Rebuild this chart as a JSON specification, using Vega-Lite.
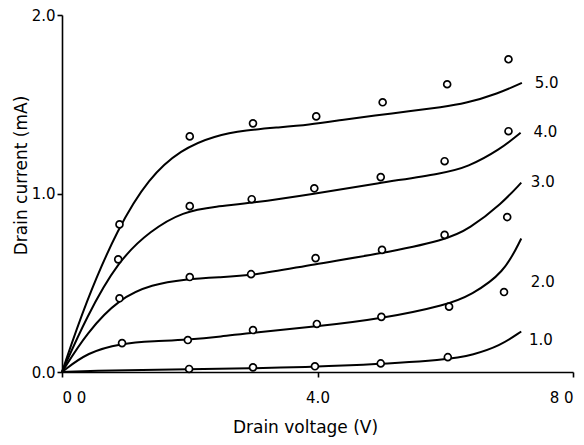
{
  "$schema": "https://vega.github.io/schema/vega-lite/v6.json",
  "autosize": {"type": "none"},
  "width": 511,
  "height": 357,
  "padding": {"left": 62, "top": 15, "right": 11, "bottom": 73},
  "background": "white",
  "config": {
    "view": {"stroke": null},
    "font": "DejaVu Sans",
    "axis": {"grid": false, "domainColor": "black", "tickColor": "black", "labelColor": "black", "titleColor": "black", "domainWidth": 1.6, "tickWidth": 1.6, "labelFont": "DejaVu Sans", "titleFont": "DejaVu Sans", "labelFontSize": 15, "titleFontSize": 17, "titleFontWeight": "normal"}
  },
  "datasets": {
    "curves": [
      {"g": "5.0", "x": 0, "y": 0}, {"g": "5.0", "x": 0.37, "y": 0.39}, {"g": "5.0", "x": 0.87, "y": 0.804}, {"g": "5.0", "x": 1.36, "y": 1.089}, {"g": "5.0", "x": 1.86, "y": 1.246}, {"g": "5.0", "x": 2.39, "y": 1.325}, {"g": "5.0", "x": 2.9, "y": 1.355}, {"g": "5.0", "x": 3.34, "y": 1.369}, {"g": "5.0", "x": 3.87, "y": 1.385}, {"g": "5.0", "x": 4.38, "y": 1.412}, {"g": "5.0", "x": 4.9, "y": 1.437}, {"g": "5.0", "x": 5.43, "y": 1.46}, {"g": "5.0", "x": 5.95, "y": 1.485}, {"g": "5.0", "x": 6.3, "y": 1.503}, {"g": "5.0", "x": 6.83, "y": 1.56}, {"g": "5.0", "x": 7.2, "y": 1.62},
      {"g": "4.0", "x": 0, "y": 0}, {"g": "4.0", "x": 0.38, "y": 0.306}, {"g": "4.0", "x": 0.88, "y": 0.625}, {"g": "4.0", "x": 1.39, "y": 0.793}, {"g": "4.0", "x": 1.89, "y": 0.899}, {"g": "4.0", "x": 2.42, "y": 0.928}, {"g": "4.0", "x": 2.94, "y": 0.945}, {"g": "4.0", "x": 3.91, "y": 0.995}, {"g": "4.0", "x": 4.93, "y": 1.057}, {"g": "4.0", "x": 5.98, "y": 1.114}, {"g": "4.0", "x": 6.34, "y": 1.146}, {"g": "4.0", "x": 6.86, "y": 1.247}, {"g": "4.0", "x": 7.18, "y": 1.34},
      {"g": "3.0", "x": 0, "y": 0}, {"g": "3.0", "x": 0.39, "y": 0.222}, {"g": "3.0", "x": 0.9, "y": 0.413}, {"g": "3.0", "x": 1.41, "y": 0.491}, {"g": "3.0", "x": 1.93, "y": 0.52}, {"g": "3.0", "x": 2.46, "y": 0.531}, {"g": "3.0", "x": 2.98, "y": 0.54}, {"g": "3.0", "x": 3.94, "y": 0.604}, {"g": "3.0", "x": 4.97, "y": 0.661}, {"g": "3.0", "x": 6.01, "y": 0.74}, {"g": "3.0", "x": 6.37, "y": 0.8}, {"g": "3.0", "x": 6.89, "y": 0.945}, {"g": "3.0", "x": 7.19, "y": 1.061},
      {"g": "2.0", "x": 0, "y": 0}, {"g": "2.0", "x": 0.4, "y": 0.111}, {"g": "2.0", "x": 0.93, "y": 0.161}, {"g": "2.0", "x": 1.44, "y": 0.173}, {"g": "2.0", "x": 1.96, "y": 0.181}, {"g": "2.0", "x": 2.49, "y": 0.198}, {"g": "2.0", "x": 3.0, "y": 0.222}, {"g": "2.0", "x": 3.97, "y": 0.254}, {"g": "2.0", "x": 5.0, "y": 0.298}, {"g": "2.0", "x": 6.04, "y": 0.377}, {"g": "2.0", "x": 6.4, "y": 0.431}, {"g": "2.0", "x": 6.92, "y": 0.554}, {"g": "2.0", "x": 7.19, "y": 0.748},
      {"g": "1.0", "x": 0, "y": 0}, {"g": "1.0", "x": 0.5, "y": 0.008}, {"g": "1.0", "x": 1.38, "y": 0.012}, {"g": "1.0", "x": 2.94, "y": 0.02}, {"g": "1.0", "x": 4.51, "y": 0.035}, {"g": "1.0", "x": 6.07, "y": 0.069}, {"g": "1.0", "x": 6.43, "y": 0.096}, {"g": "1.0", "x": 6.85, "y": 0.145}, {"g": "1.0", "x": 7.19, "y": 0.227}
    ],
    "points": [
      {"g": "5.0", "x": 0.9, "y": 0.827}, {"g": "5.0", "x": 2.0, "y": 1.32}, {"g": "5.0", "x": 2.99, "y": 1.393}, {"g": "5.0", "x": 3.98, "y": 1.432}, {"g": "5.0", "x": 5.02, "y": 1.511}, {"g": "5.0", "x": 6.03, "y": 1.612}, {"g": "5.0", "x": 6.99, "y": 1.752},
      {"g": "4.0", "x": 0.88, "y": 0.631}, {"g": "4.0", "x": 2.0, "y": 0.929}, {"g": "4.0", "x": 2.97, "y": 0.968}, {"g": "4.0", "x": 3.95, "y": 1.029}, {"g": "4.0", "x": 4.99, "y": 1.092}, {"g": "4.0", "x": 5.99, "y": 1.181}, {"g": "4.0", "x": 6.99, "y": 1.349},
      {"g": "3.0", "x": 0.9, "y": 0.413}, {"g": "3.0", "x": 2.0, "y": 0.532}, {"g": "3.0", "x": 2.96, "y": 0.548}, {"g": "3.0", "x": 3.97, "y": 0.638}, {"g": "3.0", "x": 5.01, "y": 0.684}, {"g": "3.0", "x": 5.99, "y": 0.768}, {"g": "3.0", "x": 6.97, "y": 0.868},
      {"g": "2.0", "x": 0.94, "y": 0.162}, {"g": "2.0", "x": 1.97, "y": 0.179}, {"g": "2.0", "x": 2.99, "y": 0.235}, {"g": "2.0", "x": 3.99, "y": 0.269}, {"g": "2.0", "x": 5.0, "y": 0.309}, {"g": "2.0", "x": 6.06, "y": 0.366}, {"g": "2.0", "x": 6.92, "y": 0.448},
      {"g": "1.0", "x": 1.99, "y": 0.017}, {"g": "1.0", "x": 2.99, "y": 0.026}, {"g": "1.0", "x": 3.96, "y": 0.032}, {"g": "1.0", "x": 4.99, "y": 0.048}, {"g": "1.0", "x": 6.04, "y": 0.083}
    ],
    "labels": [
      {"g": "5.0", "x": 7.4, "y": 1.62},
      {"g": "4.0", "x": 7.38, "y": 1.344},
      {"g": "3.0", "x": 7.34, "y": 1.064},
      {"g": "2.0", "x": 7.34, "y": 0.506},
      {"g": "1.0", "x": 7.31, "y": 0.181}
    ]
  },
  "layer": [
    {
      "data": {"name": "curves"},
      "mark": {"type": "line", "interpolate": "basis", "color": "black", "strokeWidth": 2},
      "encoding": {
        "x": {"field": "x", "type": "quantitative", "scale": {"domain": [0, 8], "nice": false}, "axis": {"values": [0, 4, 8], "labelExpr": "datum.value == 0 ? '0 0' : datum.value == 4 ? '4.0' : '8 0'", "title": "Drain voltage (V)", "tickSize": 5, "labelPadding": 13, "titlePadding": 14, "titleX": 243}},
        "y": {"field": "y", "type": "quantitative", "scale": {"domain": [0, 2], "nice": false}, "axis": {"values": [0, 1, 2], "format": ".1f", "title": "Drain current (mA)", "tickSize": 5, "labelPadding": 2, "titlePadding": 1, "titleY": 160}},
        "detail": {"field": "g"}
      }
    },
    {
      "data": {"name": "points"},
      "mark": {"type": "point", "shape": "circle", "filled": false, "fill": "white", "fillOpacity": 1, "stroke": "black", "strokeWidth": 1.7, "size": 48, "opacity": 1},
      "encoding": {
        "x": {"field": "x", "type": "quantitative"},
        "y": {"field": "y", "type": "quantitative"}
      }
    },
    {
      "data": {"name": "labels"},
      "mark": {"type": "text", "align": "left", "baseline": "middle", "fontSize": 15, "color": "black", "font": "DejaVu Sans"},
      "encoding": {
        "x": {"field": "x", "type": "quantitative"},
        "y": {"field": "y", "type": "quantitative"},
        "text": {"field": "g"}
      }
    }
  ]
}
